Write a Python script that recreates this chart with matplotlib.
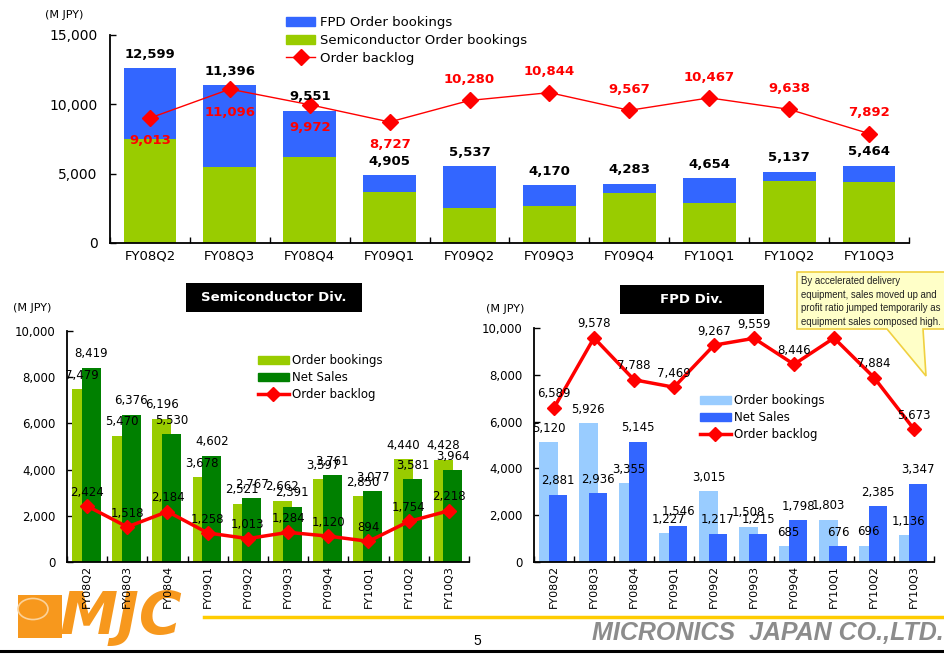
import numpy as np
import matplotlib.pyplot as plt
from matplotlib.patches import Rectangle, Polygon, Circle, Patch
from matplotlib.lines import Line2D
from matplotlib.ticker import FuncFormatter

plt.rcParams['font.family'] = ['DejaVu Sans']

# ---- data (M JPY) ----
quarters = ["FY08Q2", "FY08Q3", "FY08Q4", "FY09Q1", "FY09Q2",
            "FY09Q3", "FY09Q4", "FY10Q1", "FY10Q2", "FY10Q3"]

total_bookings = [12599, 11396, 9551, 4905, 5537, 4170, 4283, 4654, 5137, 5464]
total_backlog = [9013, 11096, 9972, 8727, 10280, 10844, 9567, 10467, 9638, 7892]

semi_bookings = [7479, 5470, 6196, 3678, 2521, 2662, 3597, 2850, 4440, 4428]
semi_sales = [8419, 6376, 5530, 4602, 2767, 2391, 3761, 3077, 3581, 3964]
semi_backlog = [2424, 1518, 2184, 1258, 1013, 1284, 1120, 894, 1754, 2218]

fpd_bookings = [5120, 5926, 3355, 1227, 3015, 1508, 685, 1803, 696, 1136]
fpd_sales = [2881, 2936, 5145, 1546, 1217, 1215, 1798, 676, 2385, 3347]
fpd_backlog = [6589, 9578, 7788, 7469, 9267, 9559, 8446, 9573, 7884, 5673]

# where the red backlog labels of the top chart sit (below / above the marker)
backlog_label_below = [True, True, True, True, False, False, False, False, False, False]

W, H = 945, 664
fig = plt.figure(figsize=(W / 100, H / 100), dpi=100)


def ax_px(x0, y0, x1, y1):
    return fig.add_axes([x0 / W, 1 - y1 / H, (x1 - x0) / W, (y1 - y0) / H])


def fx(x):
    return x / W


def fy(y):
    return 1 - y / H


def style(ax, ymax, step, xsize, ysize, rot, xpad, ypad):
    ax.set_xlim(-0.5, 9.5)
    ax.set_ylim(0, ymax)
    ax.spines[['top', 'right']].set_visible(False)
    ax.spines['left'].set_linewidth(1.3)
    ax.spines['bottom'].set_linewidth(1.3)
    ax.set_yticks(np.arange(0, ymax + 1, step))
    ax.yaxis.set_major_formatter(FuncFormatter(lambda v, p: f"{int(v):,}"))
    ax.set_xticks(np.arange(len(quarters)))
    ax.set_xticklabels(quarters, rotation=rot, fontsize=xsize)
    ax.set_xticks(np.arange(-0.5, len(quarters), 1), minor=True)
    ax.tick_params(axis='x', which='major', length=0, pad=xpad)
    ax.tick_params(axis='x', which='minor', direction='in', length=4, width=1)
    ax.tick_params(axis='y', direction='in', length=4, width=1, labelsize=ysize, pad=ypad)
    ax.patch.set_alpha(0)


x = np.arange(len(quarters))

# ---- top chart: total order bookings ----
ax1 = ax_px(110, 35, 909, 243)
style(ax1, 15000, 5000, 9.5, 10, 0, 5, 9)
ax1.bar(x, semi_bookings, 0.66, color="#99CC00")
ax1.bar(x, fpd_bookings, 0.66, bottom=semi_bookings, color="#3366FF")
ax1.plot(x, total_backlog, color="#FF0000", lw=1, marker='D', ms=8.5)
stack_top = np.array(semi_bookings) + np.array(fpd_bookings)
for i in range(len(x)):
    ax1.annotate(f"{total_bookings[i]:,}", (x[i], stack_top[i]), xytext=(0, 10),
                 textcoords='offset points', ha='center', va='center',
                 fontsize=9.5, fontweight='bold', color='black')
    off = -16.5 if backlog_label_below[i] else 15
    ax1.annotate(f"{total_backlog[i]:,}", (x[i], total_backlog[i]), xytext=(0, off),
                 textcoords='offset points', ha='center', va='center',
                 fontsize=9.5, fontweight='bold', color='#FF0000')
top_handles = [Patch(color="#3366FF"), Patch(color="#99CC00"),
               Line2D([], [], color="#FF0000", lw=1, marker='D', ms=8.5)]
ax1.legend(top_handles, ["FPD Order bookings", "Semiconductor Order bookings", "Order backlog"],
           loc='upper left', bbox_to_anchor=(fx(286), fy(16)), bbox_transform=fig.transFigure,
           frameon=False, fontsize=9.5, handlelength=2.2, handletextpad=0.35,
           labelspacing=0.38, borderpad=0, borderaxespad=0)
fig.text(fx(64), fy(15), "(M JPY)", ha='center', va='center', fontsize=8)


def division(ax, bookings, sales, backlog, c_light, c_dark, legend_xy):
    ax.bar(x - 0.14, bookings, 0.47, color=c_light, zorder=2)
    ax.bar(x + 0.10, sales, 0.47, color=c_dark, zorder=2)
    ax.plot(x, backlog, color="#FF0000", lw=2.5, marker='D', ms=7, zorder=3)
    for i in range(len(x)):
        for xx, v in ((x[i] - 0.14, bookings[i]), (x[i] + 0.10, sales[i]), (x[i], backlog[i])):
            ax.annotate(f"{v:,}", (xx, v), xytext=(0, 10), textcoords='offset points',
                        ha='center', va='center', fontsize=8.5, color='black', zorder=4)
    handles = [Patch(color=c_light), Patch(color=c_dark),
               Line2D([], [], color="#FF0000", lw=2.5, marker='D', ms=7)]
    ax.legend(handles, ["Order bookings", "Net Sales", "Order backlog"], loc='upper left',
              bbox_to_anchor=(fx(legend_xy[0]), fy(legend_xy[1])),
              bbox_transform=fig.transFigure, frameon=False, fontsize=8.5,
              handlelength=2.6, handletextpad=0.25, labelspacing=0.35,
              borderpad=0, borderaxespad=0)


# ---- bottom left: Semiconductor Div. ----
ax2 = ax_px(67, 331, 469, 562)
style(ax2, 10000, 2000, 8, 8.5, 90, 2, 8)
division(ax2, semi_bookings, semi_sales, semi_backlog, "#99CC00", "#008000", (258, 354))

# ---- bottom right: FPD Div. ----
ax3 = ax_px(534, 328, 934, 562)
style(ax3, 10000, 2000, 8, 8.5, 90, 2, 8)
division(ax3, fpd_bookings, fpd_sales, fpd_backlog, "#99CCFF", "#3366FF", (700, 394))

fig.text(fx(32), fy(308), "(M JPY)", ha='center', va='center', fontsize=8)
fig.text(fx(505), fy(309), "(M JPY)", ha='center', va='center', fontsize=8)

# title boxes
for (x0, y0, x1, y1, title) in [(186, 283, 362, 312, "Semiconductor Div."),
                                (620, 285, 764, 314, "FPD Div.")]:
    fig.patches.append(Rectangle((fx(x0), fy(y1)), fx(x1 - x0), (y1 - y0) / H,
                                 transform=fig.transFigure, facecolor='black', edgecolor='none'))
    fig.text(fx((x0 + x1) / 2), fy((y0 + y1) / 2), title, ha='center', va='center',
             fontsize=9.5, fontweight='bold', color='white')

# callout
callout = Polygon([(fx(797), fy(272)), (fx(946), fy(272)), (fx(946), fy(329)),
                   (fx(923), fy(329)), (fx(926), fy(376)), (fx(887), fy(329)),
                   (fx(797), fy(329))], closed=True, transform=fig.transFigure,
                  facecolor="#FFFFC8", edgecolor="#F0D040", lw=1.2, zorder=5)
fig.patches.append(callout)
note = ["By accelerated delivery", "equipment, sales moved up and",
        "profit ratio jumped temporarily as", "equipment sales composed high."]
for k, line in enumerate(note):
    fig.text(fx(801), fy(281 + 13.7 * k), line, ha='left', va='center', fontsize=6.9,
             family=['Liberation Sans', 'DejaVu Sans'], color='#222222', zorder=6)

# footer
fig.lines.append(Line2D([fx(204), fx(945)], [fy(617), fy(617)], transform=fig.transFigure,
                        color="#FFCC00", lw=2.5, zorder=-1))
fig.lines.append(Line2D([0, 1], [fy(651), fy(651)], transform=fig.transFigure,
                        color="black", lw=2.2))
fig.patches.append(Rectangle((fx(18), fy(638)), fx(44), 43 / H, transform=fig.transFigure,
                             facecolor="#F7981D", edgecolor='none', zorder=-1))
fig.patches.append(Circle((fx(33), fy(609)), 15 / W, transform=fig.transFigure,
                          facecolor="#F7981D", edgecolor="#FBD29A", lw=1.2, zorder=-1))
fig.text(fx(60), fy(617), "MJC", ha='left', va='center', fontsize=42, fontweight='bold',
         style='italic', color="#F7981D", zorder=-1)
fig.text(fx(477), fy(641), "5", ha='center', va='center', fontsize=10,
         family=['Liberation Sans', 'DejaVu Sans'])
fig.text(fx(944), fy(633), "MICRONICS  JAPAN CO.,LTD.", ha='right', va='center',
         fontsize=18, fontweight='bold', style='italic', color="#8C8C8C",
         family=['Liberation Sans', 'DejaVu Sans'])

fig.savefig("out.png", dpi=100)
